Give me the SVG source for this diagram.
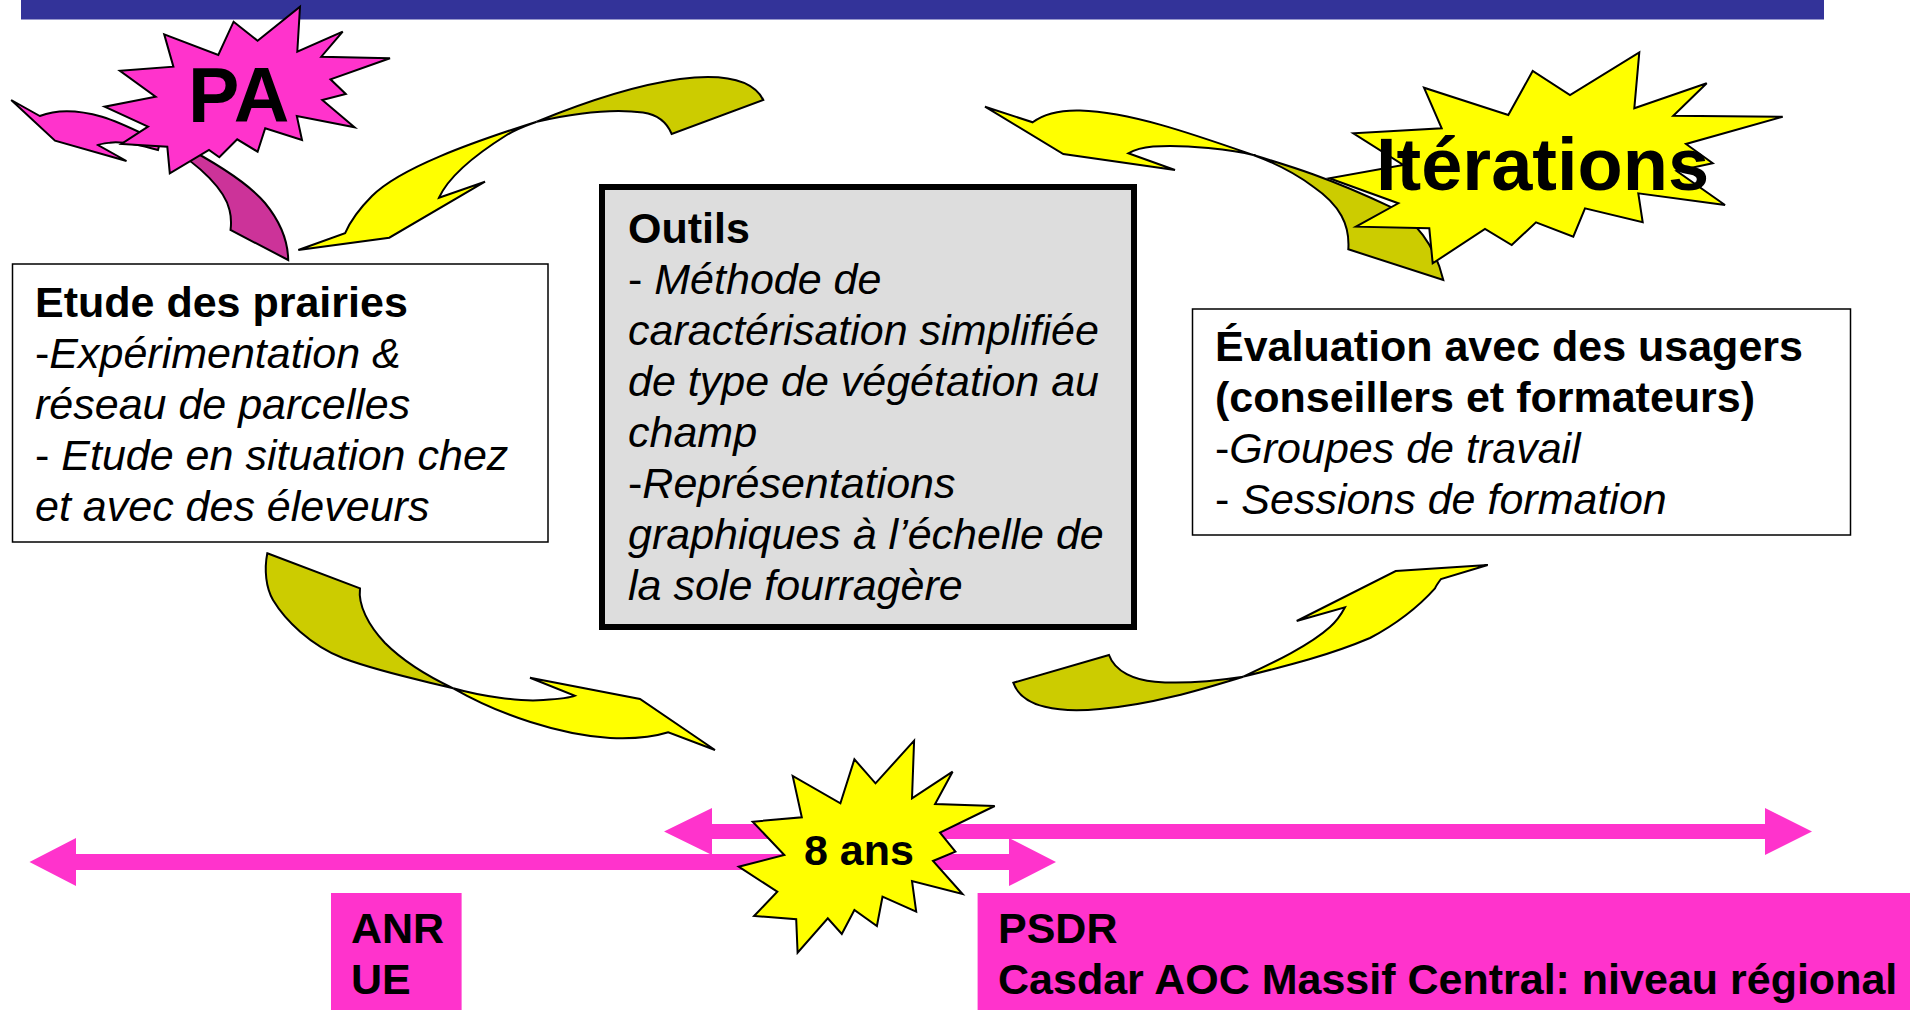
<svg xmlns="http://www.w3.org/2000/svg" width="1914" height="1010" viewBox="0 0 1914 1010">
<style>
.t{font-family:"Liberation Sans",Arial,sans-serif;font-size:43px;fill:#000}
.b{font-weight:bold}
.i{font-style:italic}
.big{font-family:"Liberation Sans",Arial,sans-serif;font-size:74px;font-weight:bold;fill:#000}
.sh{stroke:#000;stroke-width:2;stroke-linejoin:miter}
.yel{fill:#FFFF00}
.oli{fill:#CCCC00}
.mag{fill:#FF33CC}
.dmag{fill:#CC3399}
.tl{fill:#FF33CC}
</style>
<rect id="header-bar" x="21" y="0" width="1803" height="19.5" fill="#333399"/>

<g id="connectors">
  <!-- magenta curved arrow (PA) -->
  <path class="sh dmag" d="M170,148 C200,165 225,190 229.5,210 C232,220 231,226 230.5,230 L288.2,260 C288,245 283,225 265,203 C250,185 220,165 178,143 Z"/>
  <path class="sh mag" d="M11.2,100 L39.8,116 C55,110 75,109 102,116.7 C120,122 135,130 160,142 L158,150 C140,145 120,141 109.7,142.7 C104,143.5 100,144 98,145 L126.5,161 L55,140.7 Z"/>
  <!-- arrow B top middle -->
  <path class="sh oli" d="M536.7,121.7 C575,106 630,86 680,79 C720,74 752,78 763.3,100 L671.7,134 C668,125 660,115 643,112.5 C610,108 575,113 536.7,121.7 Z"/>
  <path class="sh yel" d="M536.7,121.7 C470,143 400,168 372,196 C358,210 350,222 345,233.3 L298.3,250 L389.3,237.7 L485,181.7 L439,197.7 C448,178 470,158 506.7,135 C518,128 528,125 536.7,121.7 Z"/>
  <!-- arrow C top right -->
  <path class="sh oli" d="M1253.3,155 C1290,166 1330,178 1390,206.7 C1415,220 1435,245 1443.3,280 L1348.3,249.3 C1350,225 1340,205 1313.3,186.7 C1295,173 1275,163 1253.3,155 Z"/>
  <path class="sh yel" d="M985,106.7 L1032.7,122.3 C1045,113 1060,110 1080,110.5 C1130,112 1190,133 1253.3,155 C1235,150 1185,144 1153,146.5 C1142,147.5 1134,150 1128.3,153.3 L1175,170 L1063.3,154 Z"/>
  <!-- arrow D bottom left -->
  <path class="sh oli" d="M267.3,553.3 L360,588.3 C358,605 368,625 385,643 C400,658 425,675 453.3,688.3 C420,680 380,672 343.3,658.3 C310,645 285,620 273,600 C266,588 264,570 267.3,553.3 Z"/>
  <path class="sh yel" d="M453.3,688.3 C480,696 520,702 543.3,700 C560,699 570,698 575,695.7 L530,677.7 L640,699 L715,750 L668.3,732.3 C650,738 630,739 610,738 C560,735 500,715 453.3,688.3 Z"/>
  <!-- arrow E bottom right -->
  <path class="sh oli" d="M1013.3,682.7 L1109,655 C1115,672 1135,680 1155,681.7 C1180,684 1215,681 1243.3,676.7 C1200,690 1150,705 1100,709 C1060,713 1022,708 1013.3,682.7 Z"/>
  <path class="sh yel" d="M1243.3,676.7 C1275,662 1310,645 1330,627 C1338,620 1342,613 1345,607.3 L1296.7,621 L1395.7,571 L1487.7,565 L1441,579 C1438,583 1436,586 1435,588.3 C1420,605 1400,622 1370,638 C1330,655 1290,665 1243.3,676.7 Z"/>
  <!-- timeline arrows -->
  <polygon class="tl" points="29.5,862 76,838 76,854 1009,854 1009,838 1056,862 1009,886 1009,870 76,870 76,886"/>
  <polygon class="tl" points="664,831.5 712,808 712,824 1765,824 1765,808 1812,831.5 1765,855 1765,839 712,839 712,855"/>
</g>

<g id="star-pa">
  <polygon class="sh mag" points="300,6.7 297.3,51.7 342.7,31.7 321.3,56.7 390,58.3 330.5,79.3 345.8,94 322.3,100 354.5,127.3 296.8,116 302,140 265.2,128.3 257.6,151.7 237.2,139.3 219.3,157.3 209,150 169.8,173.3 167.3,146.7 121.4,144 148,126.7 104.6,106.7 155.6,96.7 119.9,70.7 173.4,66.7 164.2,34.3 218.3,55 233.6,21.7 257.6,40.7"/>
  <text class="big" x="188" y="122" style="font-size:77px">PA</text>
</g>

<g id="star-iterations">
  <polygon class="sh yel" points="1639.3,52.3 1634.3,108.3 1706.7,83.3 1673.3,115.7 1782.7,116.7 1686,144 1712.7,163.3 1676.7,171 1725,205 1638.3,193.3 1642.7,222.3 1585,208.3 1573.3,236.7 1536,222.3 1511.7,245 1485,229 1432.7,263.3 1429.3,228.3 1356,226.7 1398.3,203.3 1329.3,178.3 1403.3,165 1353.3,133.3 1441.7,128.3 1424,87.7 1508.3,115 1532.7,71 1570,95"/>
  <text class="big" x="1376" y="190">Itérations</text>
</g>

<g id="box-etude">
  <rect x="12.5" y="264" width="535.5" height="278" fill="#FFFFFF" stroke="#000" stroke-width="1.5"/>
  <text class="t" x="35" y="316.5"><tspan class="b">Etude des prairies</tspan></text>
  <text class="t" x="35" y="367.5">-<tspan class="i">Expérimentation &amp;</tspan></text>
  <text class="t i" x="35" y="418.5">réseau de parcelles</text>
  <text class="t" x="35" y="469.5">- <tspan class="i">Etude en situation chez</tspan></text>
  <text class="t i" x="35" y="520.5">et avec des éleveurs</text>
</g>

<g id="box-outils">
  <rect x="602" y="187" width="532" height="440" fill="#DDDDDD" stroke="#000" stroke-width="6"/>
  <text class="t b" x="628" y="243">Outils</text>
  <text class="t" x="628" y="294">- <tspan class="i">Méthode de</tspan></text>
  <text class="t i" x="628" y="345">caractérisation simplifiée</text>
  <text class="t i" x="628" y="396">de type de végétation au</text>
  <text class="t i" x="628" y="447">champ</text>
  <text class="t" x="628" y="498">-<tspan class="i">Représentations</tspan></text>
  <text class="t i" x="628" y="549">graphiques à l’échelle de</text>
  <text class="t i" x="628" y="600">la sole fourragère</text>
</g>

<g id="box-evaluation">
  <rect x="1192.5" y="309" width="658" height="226" fill="#FFFFFF" stroke="#000" stroke-width="1.5"/>
  <text class="t b" x="1215" y="361">Évaluation avec des usagers</text>
  <text class="t b" x="1215" y="412">(conseillers et formateurs)</text>
  <text class="t" x="1215" y="463">-<tspan class="i">Groupes de travail</tspan></text>
  <text class="t" x="1215" y="514">- <tspan class="i">Sessions de formation</tspan></text>
</g>

<g id="star-8ans">
  <polygon class="sh yel" points="914.1,740.7 912,798.3 952.6,771.7 935.1,804 994.7,806 940,832.7 955.4,851.7 933,861 962.5,894 912,881 916.2,911.7 882.5,896.7 876.9,926 854.4,910 841.8,934 827.8,918.3 797.6,952.7 796.2,919.3 754.1,916 777.3,891.7 738.7,866.7 784.3,855 752.7,821.7 801.8,817.3 792.7,776 840.4,803.3 854.4,759.3 875.5,783.3"/>
  <text class="t b" x="804" y="865">8 ans</text>
</g>

<g id="box-anr">
  <rect x="331" y="893" width="130.6" height="117" fill="#FF33CC"/>
  <text class="t b" x="351" y="943">ANR</text>
  <text class="t b" x="351" y="994">UE</text>
</g>

<g id="box-psdr">
  <rect x="977.6" y="893" width="932.4" height="117" fill="#FF33CC"/>
  <text class="t b" x="998" y="943">PSDR</text>
  <text class="t b" x="998" y="994">Casdar AOC Massif Central: niveau régional</text>
</g>
</svg>
